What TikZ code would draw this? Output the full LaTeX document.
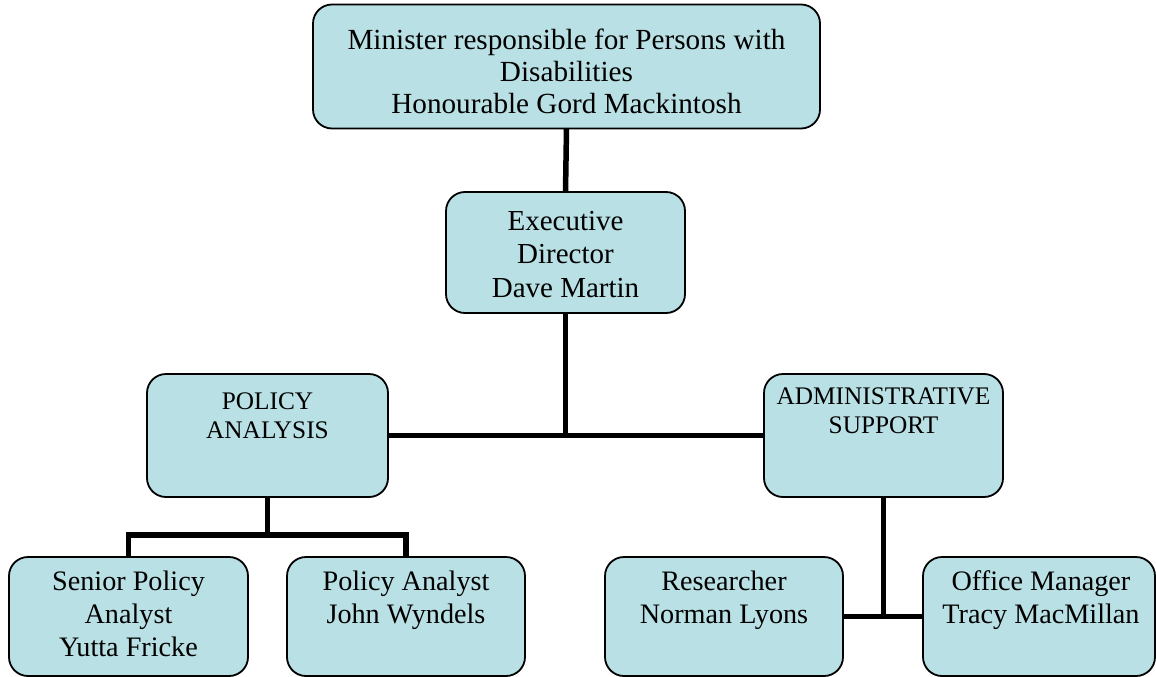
\documentclass[tikz,border=0pt]{standalone}
\usepackage{fontspec}
\setmainfont{Liberation Serif}
\definecolor{boxfill}{RGB}{185,224,228}
\tikzset{
  box/.style={draw=black, line width=1.8pt, fill=boxfill, rounded corners=19pt, inner sep=0pt, outer sep=0pt},
  wide/.style={minimum width=239pt, minimum height=121pt},
  link/.style={line width=5.5pt, black},
  bigtxt/.style={anchor=north, inner sep=0pt, align=center, font=\fontsize{29.2}{32.2}\selectfont},
  exectxt/.style={anchor=north, inner sep=0pt, align=center, font=\fontsize{29}{33.5}\selectfont},
  smalltxt/.style={anchor=north, inner sep=0pt, align=center, font=\fontsize{25.3}{29}\selectfont},
  lowtxt/.style={anchor=north, inner sep=0pt, align=center, font=\fontsize{28.2}{33}\selectfont}
}
\begin{document}
\begin{tikzpicture}[x=1pt,y=-1pt]
\useasboundingbox (0,0) rectangle (1156,677);
% boxes
\node[box, minimum width=507pt, minimum height=124pt] (min) at (566.5,66.5) {};
\node[box, wide] (exec) at (565.5,252.5) {};
\node[box, minimum width=241pt, minimum height=123pt] (pol) at (267.5,435.5) {};
\node[box, minimum width=239pt, minimum height=123pt] (adm) at (883.5,435.5) {};
\node[box, minimum width=239pt, minimum height=119pt] (spa) at (128.5,616.5) {};
\node[box, minimum width=238pt, minimum height=119pt] (pa) at (406,616.5) {};
\node[box, minimum width=238pt, minimum height=119pt] (res) at (724,616.5) {};
\node[box, minimum width=232pt, minimum height=119pt] (off) at (1039,616.5) {};
% connectors
\coordinate (pj) at (267.5,535);
\draw[link] (min.south) -- (exec.north);
\draw[link] (pol.east) -- (adm.west);
\draw[link] (exec.south) -- (exec.south |- pol.east);
\draw[link] (pol.south) -- (pj);
\draw[link] (spa.north) |- (pj) -| (pa.north);
\draw[link] (res.east) -- (off.west);
\draw[link] (adm.south) -- (adm.south |- res.east);
% texts
\node[bigtxt] (mint) at (566.5,26.5) {\strut Minister responsible for Persons with\\Disabilities\\Honourable Gord Mackintosh};
\node[exectxt] (exect) at (565.5,206.5) {\strut Executive\\Director\\Dave Martin};
\node[smalltxt] (polt) at (267.5,388.5) {\strut POLICY\\ANALYSIS};
\node[smalltxt] (admt) at (883.5,383.5) {\strut ADMINISTRATIVE\\SUPPORT};
\node[lowtxt] (spat) at (128.5,567.5) {\strut Senior Policy\\Analyst\\Yutta Fricke};
\node[lowtxt] (pat) at (406,567.5) {\strut Policy Analyst\\John Wyndels};
\node[lowtxt] (rest) at (724,567.5) {\strut Researcher\\Norman Lyons};
\node[lowtxt] (offt) at (1041,567.5) {\strut Office Manager\\Tracy MacMillan};
\end{tikzpicture}
\end{document}
